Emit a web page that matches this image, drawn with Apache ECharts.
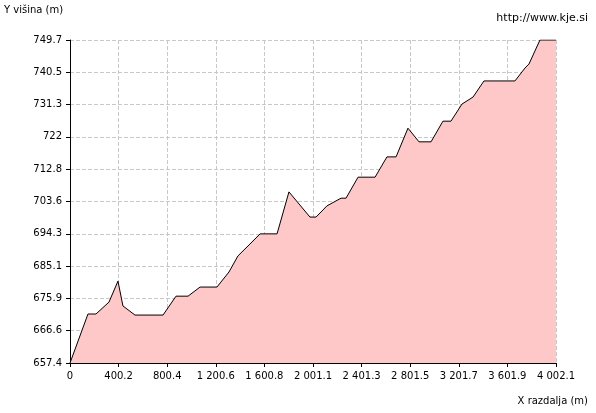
<!DOCTYPE html>
<html><head><meta charset="utf-8">
<script src="https://cdn.jsdelivr.net/npm/echarts@6/dist/echarts.min.js"></script>
<style>html,body{margin:0;padding:0;background:#fff}#c{width:596px;height:413px}</style>
</head><body><div id="c"></div>
<script>
const distances=[0,148,214,321,395,436,535,766,873,972,1071,1210,1309,1383,1482,1565,1705,1803,1976,2026,2116,2232,2273,2372,2512,2610,2685,2783,2874,2973,3071,3137,3228,3319,3409,3664,3747,3779,3870,4002.1];
const heights=[657.4,671.4,671.4,674.8,680.8,673.7,671.1,671.1,676.5,676.5,679.1,679.1,683.4,688,691.4,694.3,694.3,706.3,699.1,699.1,702.3,704.5,704.5,710.5,710.5,716.3,716.3,724.5,720.6,720.6,726.5,726.5,731.4,733.4,738,738,741.7,742.8,749.7,749.7];
const xLabels=['0','400.2','800.4','1 200.6','1 600.8','2 001.1','2 401.3','2 801.5','3 201.7','3 601.9','4 002.1'];
const yLabels=['657.4','666.6','675.9','685.1','694.3','703.6','712.8','722','731.3','740.5','749.7'];
const yMin=657.4, yMax=749.7, xMax=4002.1;
const yStep=(yMax-yMin)/10, xStep=xMax/10;
const data=distances.map((d,i)=>[d,heights[i]-yMin]);
const font='DejaVu Sans';
const chart=echarts.init(document.getElementById('c'));
chart.setOption({
 animation:false,
 textStyle:{fontFamily:font},
 grid:{left:70,right:40,top:40,bottom:50},
 graphic:[
  {type:'text',left:4,top:5,style:{text:'Y višina (m)',font:'10px '+font,fill:'#000'}},
  {type:'text',right:8,top:13,style:{text:'http://www.kje.si',font:'11px '+font,fill:'#000'}},
  {type:'text',right:8,top:396,style:{text:'X razdalja (m)',font:'10px '+font,fill:'#000'}}
 ],
 xAxis:{type:'value',min:0,max:xMax,interval:xStep,
  axisLine:{lineStyle:{color:'#000'}},axisTick:{show:true,length:4,lineStyle:{color:'#000'}},
  axisLabel:{color:'#000',fontSize:10,margin:8,formatter:v=>xLabels[Math.round(v/xStep)]},
  splitLine:{show:true,lineStyle:{color:'#c8c8c8',type:'dashed'}}},
 yAxis:{type:'value',min:0,max:yMax-yMin,interval:yStep,
  axisLine:{show:true,lineStyle:{color:'#000'}},axisTick:{show:true,length:4,lineStyle:{color:'#000'}},
  axisLabel:{color:'#000',fontSize:10,margin:8,formatter:v=>yLabels[Math.round(v/yStep)]},
  splitLine:{show:true,lineStyle:{color:'#c8c8c8',type:'dashed'}}},
 series:[{type:'line',data:data,symbol:'none',
  lineStyle:{color:'#000',width:1},
  areaStyle:{color:'#ffc8c8',opacity:1}}]
});
</script></body></html>
